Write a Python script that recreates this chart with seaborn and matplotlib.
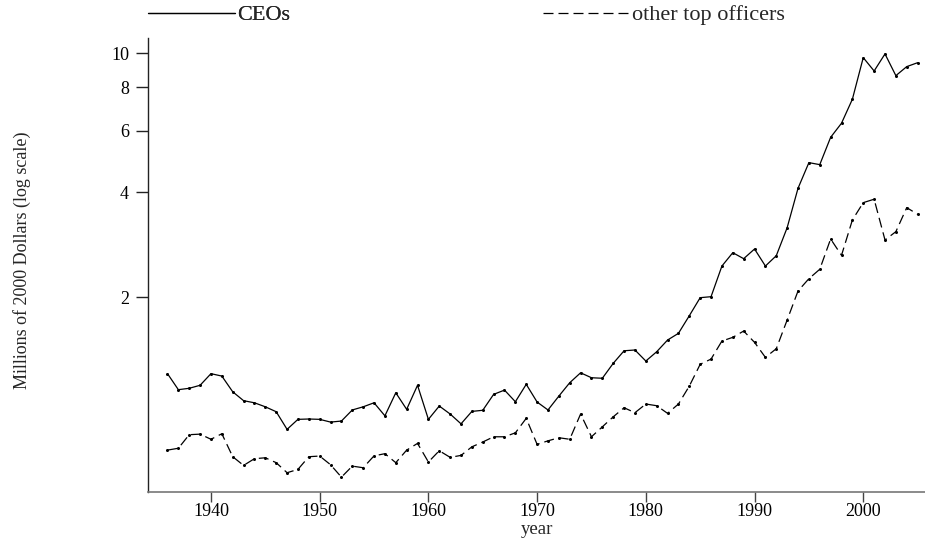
import matplotlib
matplotlib.use("Agg")
import matplotlib.pyplot as plt
import seaborn as sns
import pandas as pd
from matplotlib.lines import Line2D
from matplotlib.ticker import FixedLocator, FixedFormatter, NullLocator

years = list(range(1936, 2006))

ceos = [1.206, 1.085, 1.095, 1.117, 1.206, 1.187, 1.070, 1.009, 0.995, 0.969,
        0.938, 0.835, 0.892, 0.894, 0.892, 0.876, 0.882, 0.949, 0.969, 0.995,
        0.913, 1.063, 0.953, 1.117, 0.892, 0.974, 0.924, 0.866, 0.940, 0.947,
        1.052, 1.082, 1.002, 1.124, 1.000, 0.949, 1.040, 1.136, 1.213, 1.174,
        1.170, 1.291, 1.403, 1.410, 1.311, 1.394, 1.506, 1.574, 1.768, 1.992,
        2.005, 2.455, 2.681, 2.577, 2.747, 2.455, 2.628, 3.162, 4.102, 4.859,
        4.795, 5.743, 6.303, 7.385, 9.72, 8.90, 9.96, 8.63, 9.16, 9.40]

others = [0.728, 0.737, 0.806, 0.809, 0.782, 0.811, 0.697, 0.658, 0.688, 0.692,
          0.670, 0.627, 0.641, 0.697, 0.700, 0.661, 0.609, 0.655, 0.648, 0.701,
          0.711, 0.670, 0.728, 0.761, 0.673, 0.725, 0.694, 0.703, 0.744, 0.768,
          0.795, 0.795, 0.816, 0.898, 0.756, 0.774, 0.790, 0.782, 0.924, 0.795,
          0.849, 0.907, 0.963, 0.932, 0.987, 0.976, 0.928, 0.987, 1.111, 1.283,
          1.328, 1.496, 1.533, 1.598, 1.483, 1.343, 1.422, 1.719, 2.082, 2.258,
          2.403, 2.935, 2.635, 3.327, 3.731, 3.816, 2.916, 3.080, 3.610, 3.454]

series_names = ["CEOs", "other top officers"]
y_ticks = [2, 4, 6, 8, 10]
y_tick_labels = ["2", "4", "6", "8", "10"]
x_ticks = [1940, 1950, 1960, 1970, 1980, 1990, 2000]

df = pd.concat([
    pd.DataFrame({"year": years, "value": ceos, "series": series_names[0]}),
    pd.DataFrame({"year": years, "value": others, "series": series_names[1]}),
])

sns.set_theme(style="white")
plt.rcParams["font.family"] = ["Liberation Serif", "DejaVu Serif"]

DASH = (8, 4)
fig = plt.figure(figsize=(9.25, 5.42), dpi=100)
ax = fig.add_axes([0.1605, 0.0917, 0.8395, 0.8373])

sns.lineplot(data=df, x="year", y="value", style="series",
             dashes={series_names[0]: "", series_names[1]: DASH},
             markers={series_names[0]: "o", series_names[1]: "o"},
             markersize=2.2, markeredgewidth=0, color="black", linewidth=0.9,
             legend=False, ax=ax)

ax.set_yscale("log")
ax.set_ylim(0.551, 11.03)
ax.set_xlim(1934.25, 2005.68)
ax.yaxis.set_major_locator(FixedLocator(y_ticks))
ax.yaxis.set_major_formatter(FixedFormatter(y_tick_labels))
ax.yaxis.set_minor_locator(NullLocator())
ax.set_xticks(x_ticks)
ax.set_xticklabels([str(x) for x in x_ticks])

for s in ["top", "right"]:
    ax.spines[s].set_visible(False)
ax.spines["left"].set_color("#222222")
ax.spines["left"].set_linewidth(1.0)
ax.spines["bottom"].set_color("#777777")
ax.spines["bottom"].set_linewidth(1.2)
ax.tick_params(axis="y", which="major", direction="out", length=9, width=1,
               color="#222222", labelsize=13, labelcolor="black", pad=5,
               left=True)
ax.tick_params(axis="x", which="major", direction="out", length=7, width=1,
               color="#444444", labelsize=13, labelcolor="black", pad=1.0,
               bottom=True)

ax.set_xlabel("year", fontsize=13.5)
ax.xaxis.set_label_coords(0.5, -(521 - 492.3) / 453.8)
ax.set_ylabel("Millions of 2000 Dollars (log scale)", fontsize=13)
ax.yaxis.set_label_coords(31 / 925, 1 - 260 / 542, transform=fig.transFigure)

h1 = Line2D([], [], color="black", linewidth=0.9)
h2 = Line2D([], [], color="black", linewidth=0.9, linestyle=(0, DASH))
leg1 = fig.legend([h1], [series_names[0]], loc="center left",
                  bbox_to_anchor=(148 / 925, 0.972), frameon=False, fontsize=16,
                  handlelength=3.9, handletextpad=0.1, borderpad=0, borderaxespad=0)
leg2 = fig.legend([h2], [series_names[1]], loc="center left",
                  bbox_to_anchor=(543 / 925, 0.972), frameon=False, fontsize=16,
                  handlelength=3.9, handletextpad=0.1, borderpad=0, borderaxespad=0)
fig.add_artist(leg1)

fig.savefig("out.png", dpi=100)
